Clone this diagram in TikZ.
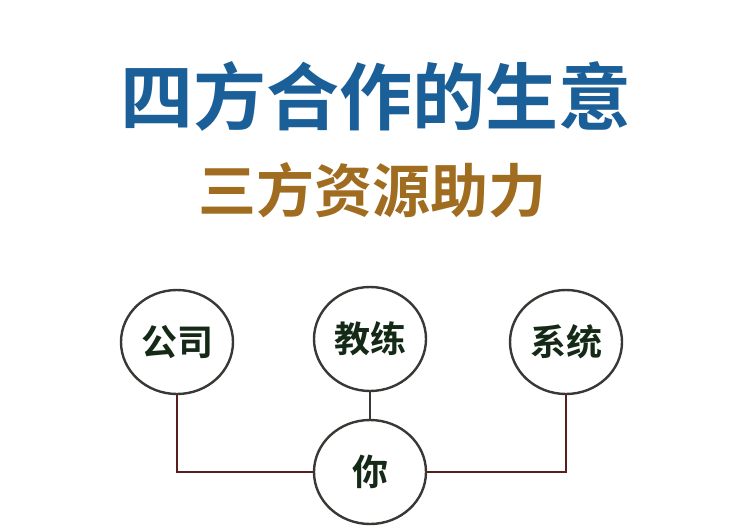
\documentclass[tikz,border=0pt]{standalone}
\usepackage{fontspec}
\newfontfamily\cjk{Noto Sans CJK SC}[BoldFont={Noto Sans CJK SC Bold}]
\usetikzlibrary{shapes.geometric}
\definecolor{titleblue}{HTML}{1B5F98}
\definecolor{subgold}{HTML}{A06C1F}
\definecolor{ringgray}{HTML}{3A3835}
\definecolor{linkred}{HTML}{5A1E1E}
\definecolor{textgreen}{HTML}{142A16}
\tikzset{
  ring/.style={ellipse, draw=ringgray, line width=2.4pt, fill=white,
    minimum width=112pt, minimum height=104pt, inner sep=0pt,
    font=\cjk\bfseries\fontsize{36}{36}\selectfont, text=textgreen},
  link/.style={draw=linkred, line width=2pt},
  midlink/.style={draw=ringgray, line width=2pt}
}
\begin{document}
\begin{tikzpicture}[x=1pt,y=-1pt]
\useasboundingbox[fill=white] (0,0) rectangle (730,532);
\node[font=\cjk\bfseries\fontsize{73}{73}\selectfont, text=titleblue] (title) at (376,96) {四方合作的生意};
\node[font=\cjk\bfseries\fontsize{58}{58}\selectfont, text=subgold] (sub) at (372,190) {三方资源助力};
\node[ring] (gs) at (177,342) {公司};
\node[ring] (jl) at (370,339) {教练};
\node[ring] (xt) at (566,342) {系统};
\node[ring] (you) at (370,472) {你};
\draw[link] (gs) |- (you);
\draw[link] (xt) |- (you);
\draw[midlink] (jl) -- (you);
\end{tikzpicture}
\end{document}
